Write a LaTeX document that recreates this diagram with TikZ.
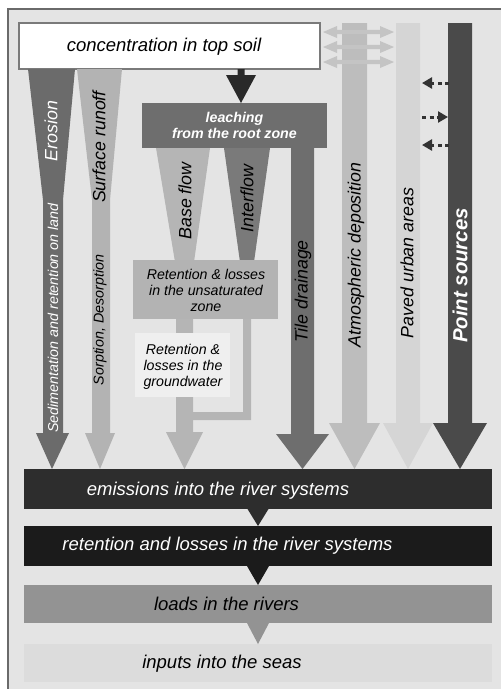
\documentclass[tikz,border=0pt]{standalone}
\usepackage{fontspec}
\setmainfont{Liberation Sans}
\usetikzlibrary{calc,arrows.meta}
\definecolor{bgc}{HTML}{E4E4E4}
\definecolor{framec}{HTML}{6A6A6A}
\definecolor{topbc}{HTML}{7A7A7A}
\definecolor{erosc}{HTML}{6B6B6B}
\definecolor{runc}{HTML}{B3B3B3}
\definecolor{leachc}{HTML}{6E6E6E}
\definecolor{basec}{HTML}{B5B5B5}
\definecolor{interc}{HTML}{7A7A7A}
\definecolor{tilec}{HTML}{6E6E6E}
\definecolor{unsatc}{HTML}{B3B3B3}
\definecolor{gwc}{HTML}{EFEFEF}
\definecolor{atmc}{HTML}{BDBDBD}
\definecolor{pavc}{HTML}{D5D5D5}
\definecolor{pointc}{HTML}{4A4A4A}
\definecolor{dblc}{HTML}{C4C4C4}
\definecolor{dotc}{HTML}{333333}
\definecolor{emisc}{HTML}{2D2D2D}
\definecolor{retc}{HTML}{1B1B1B}
\definecolor{loadc}{HTML}{939393}
\definecolor{inpc}{HTML}{DCDCDC}
\tikzset{
  box/.style={rectangle, inner sep=0pt, outer sep=0pt, draw=none},
  lbl/.style={inner sep=0pt, font=\fontsize{18.5}{21}\selectfont\itshape},
  vlbl/.style={inner sep=0pt, rotate=90, font=\fontsize{17.8}{20}\selectfont\itshape},
  slbl/.style={inner sep=0pt, rotate=90, font=\fontsize{14.3}{16}\selectfont\itshape},
  boxtxt/.style={inner sep=0pt, align=center, font=\fontsize{14.2}{16}\selectfont\itshape},
  dotarrow/.style={draw=dotc, line width=3pt, dash pattern=on 4pt off 3.5pt, -{Triangle[length=10pt,width=11pt]}},
}
\begin{document}
\begin{tikzpicture}[x=1pt,y=-1pt]
\useasboundingbox (0,0) rectangle (501,689);
\clip (0,0) rectangle (501,689);
\fill[white] (0,0) rectangle (501,689);
\draw[draw=framec, line width=1.5pt, fill=bgc] (8,9) rectangle (530,720);

% boxes
\node[box, fill=white, draw=topbc, line width=1.3pt, minimum width=301, minimum height=46] (top) at (169.5,46) {};
\node[box, fill=emisc, minimum width=468, minimum height=40] (emis) at (258,489) {};
\node[box, fill=retc, minimum width=468, minimum height=40] (ret) at (258,546) {};
\node[box, fill=loadc, minimum width=468, minimum height=38] (load) at (258,604) {};
\node[box, fill=inpc, minimum width=468, minimum height=38] (inp) at (258,663) {};

% erosion and surface runoff
\fill[erosc] (28,69) -- (75,69) -- (63,200) -- (63,433) -- (69,433) -- (52,0 |- emis.north) -- (36,433) -- (43,433) -- (43,200) -- cycle;
\fill[runc] (77,69) -- (122,69) -- (110,200) -- (110,433) -- (115,433) -- (100,0 |- emis.north) -- (85,433) -- (92,433) -- (92,200) -- cycle;

% leaching
\node[box, fill=leachc, minimum width=185, minimum height=45] (leach) at (234.5,125.5) {};
\fill[dotc!80!black] (237.5,0 |- top.south) -- (244.5,0 |- top.south) -- (244.5,75) -- (256,75) -- (241,0 |- leach.north) -- (226,75) -- (237.5,75) -- cycle;
\fill[tilec] (291,140) -- (314,140) -- (314,434) -- (329,434) -- (302.5,0 |- emis.north) -- (276,434) -- (291,434) -- cycle;
\fill[basec] (156,148) -- (210,148) -- (194,262) -- (175,262) -- cycle;
\fill[interc] (224,148) -- (270,148) -- (254,262) -- (240,262) -- cycle;
\fill[basec] (176,317) -- (193,317) -- (193,432) -- (203,432) -- (184.5,0 |- emis.north) -- (166,432) -- (176,432) -- cycle;
\fill[basec] (243,317) -- (251,317) -- (251,420) -- (193,420) -- (193,412) -- (243,412) -- cycle;
\node[box, fill=unsatc, minimum width=145, minimum height=59] (unsat) at (205.5,289.5) {};
\node[box, fill=gwc, minimum width=95, minimum height=64] (gw) at (182.5,365) {};

% right columns
\fill[atmc] (342,23) -- (367,23) -- (367,423) -- (380,423) -- (354.5,0 |- emis.north) -- (329,423) -- (342,423) -- cycle;
\fill[pavc] (396,23) -- (420,23) -- (420,423) -- (433,423) -- (408,0 |- emis.north) -- (383,423) -- (396,423) -- cycle;
\fill[pointc] (448,23) -- (472,23) -- (472,423) -- (487,423) -- (460,0 |- emis.north) -- (433,423) -- (448,423) -- cycle;

% double arrows
\foreach \yy in {32,47,62}{
  \fill[dblc] (323,\yy) -- (337,\yy-6) -- (337,\yy-2.2) -- (380,\yy-2.2) -- (380,\yy-6) -- (394,\yy) -- (380,\yy+6) -- (380,\yy+2.2) -- (337,\yy+2.2) -- (337,\yy+6) -- cycle;
}

% dotted arrows
\coordinate (d1) at (449,83);
\coordinate (d1e) at (422,83);
\coordinate (d2) at (422,117);
\coordinate (d2e) at (448,117);
\coordinate (d3) at (449,145);
\coordinate (d3e) at (422,145);
\draw[dotarrow] (d1) -- (d1e);
\draw[dotarrow] (d2) -- (d2e);
\draw[dotarrow] (d3) -- (d3e);

% lower connectors
\fill[emisc] ($(emis.south)+(-10.5,0)$) -- ($(emis.south)+(10.5,0)$) -- (ret.north) -- cycle;
\fill[retc] ($(ret.south)+(-11,0)$) -- ($(ret.south)+(11,0)$) -- (load.north) -- cycle;
\fill[loadc] ($(load.south)+(-11,0)$) -- ($(load.south)+(11,0)$) -- (inp.north) -- cycle;

% texts
\node[lbl] (tTop) at (164,47) {concentration in top soil};
\node[vlbl, text=white] (tEro) at (51,131) {Erosion};
\node[vlbl] (tRun) at (99,147) {Surface runoff};
\node[slbl, text=white] (tSed) at (53,318) {Sedimentation and retention on land};
\node[slbl] (tSorp) at (100,320) {Sorption, Desorption};
\node[boxtxt, text=white, font=\fontsize{14.2}{16}\selectfont\bfseries\itshape] (tLeach) at (234.5,125) {leaching\\from the root zone};
\node[vlbl] (tBase) at (185,201) {Base flow};
\node[vlbl] (tInter) at (247,198.5) {Interflow};
\node[vlbl] (tTile) at (303,291.5) {Tile drainage};
\node[vlbl] (tAtm) at (356,255) {Atmospheric deposition};
\node[vlbl] (tPav) at (407,263) {Paved urban areas};
\node[vlbl, text=white, font=\fontsize{20.4}{23}\selectfont\bfseries\itshape] (tPoint) at (460,275.5) {Point sources};
\node[boxtxt] (tUnsat) at (206,290) {Retention \& losses\\in the unsaturated\\zone};
\node[boxtxt] (tGw) at (183,367) {Retention \&\\losses in the\\groundwater};
\node[lbl, text=white] (tEmis) at (218,491) {emissions into the river systems};
\node[lbl, text=white] (tRet) at (227.5,546) {retention and losses in the river systems};
\node[lbl] (tLoad) at (226.5,604) {loads in the rivers};
\node[lbl] (tInp) at (222,664) {inputs into the seas};
\end{tikzpicture}
\end{document}
